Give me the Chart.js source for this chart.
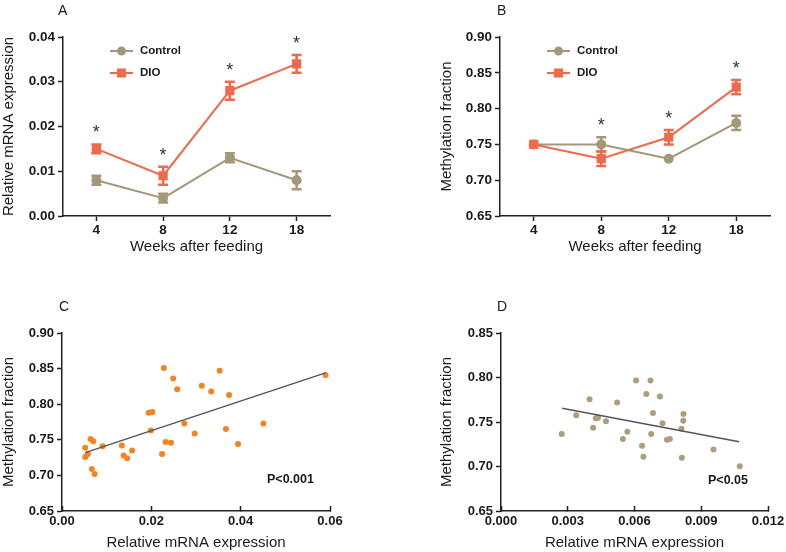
<!DOCTYPE html>
<html>
<head>
<meta charset="utf-8">
<script src="https://cdn.jsdelivr.net/npm/chart.js@4"></script>
<style>
body { margin: 0; background: #fff; }
#wrap { position: relative; width: 786px; height: 552px; }
canvas { position: absolute; }
</style>
</head>
<body>
<div id="wrap">
<canvas id="chartA" width="390" height="276" style="left:0;top:0"></canvas>
<canvas id="chartB" width="396" height="276" style="left:390px;top:0"></canvas>
<canvas id="chartC" width="390" height="276" style="left:0;top:276px"></canvas>
<canvas id="chartD" width="396" height="276" style="left:390px;top:276px"></canvas>
</div>
<script>
// panel A / B: time course
const weeks = ['4', '8', '12', '18'];
const mrnaControl = [0.008, 0.004, 0.013, 0.008];
const mrnaControlErr = [0.001, 0.001, 0.001, 0.002];
const mrnaDIO = [0.015, 0.009, 0.028, 0.034];
const mrnaDIOErr = [0.001, 0.002, 0.002, 0.002];
const mrnaSig = [true, true, true, true];

const methControl = [0.75, 0.75, 0.73, 0.78];
const methControlErr = [0, 0.01, 0, 0.01];
const methDIO = [0.75, 0.73, 0.76, 0.83];
const methDIOErr = [0, 0.01, 0.01, 0.01];
const methSig = [false, true, true, true];

// panel C: DIO scatter
const dioExpr = [0.0052, 0.0052, 0.0058, 0.0064, 0.0070, 0.0067, 0.0073, 0.0091, 0.0134, 0.0138, 0.0146, 0.0157,
  0.0194, 0.0202, 0.0199, 0.0224, 0.0228, 0.0232, 0.0244, 0.0249, 0.0258, 0.0274, 0.0297, 0.0313, 0.0334,
  0.0353, 0.0374, 0.0367, 0.0394, 0.0451, 0.0590];
const dioMeth = [0.739, 0.726, 0.730, 0.751, 0.748, 0.709, 0.702, 0.741, 0.742, 0.728, 0.724, 0.735,
  0.788, 0.789, 0.763, 0.730, 0.851, 0.747, 0.746, 0.836, 0.821, 0.773, 0.759, 0.826, 0.818,
  0.847, 0.813, 0.765, 0.744, 0.773, 0.841];
const fitCx = [0.0052, 0.059];
const fitCy = [0.732, 0.844];

// panel D: control scatter
const ctrlExpr = [0.00273, 0.00338, 0.00398, 0.00414, 0.00426, 0.00436, 0.00472, 0.00522, 0.00548, 0.00568,
  0.00607, 0.00634, 0.0064, 0.00653, 0.00672, 0.00675, 0.00683, 0.00714, 0.00726, 0.00746, 0.00759,
  0.00811, 0.00813, 0.0082, 0.00819, 0.00955, 0.01073];
const ctrlMeth = [0.7365, 0.7575, 0.7756, 0.7436, 0.7541, 0.7549, 0.7508, 0.7718, 0.7308, 0.7391,
  0.7966, 0.7233, 0.7109, 0.7816, 0.7966, 0.7365, 0.7602, 0.7786, 0.7485, 0.7301, 0.7308,
  0.7425, 0.7098, 0.759, 0.7515, 0.7192, 0.7004];
const fitDx = [0.00275, 0.0107];
const fitDy = [0.7654, 0.7278];

const ctrlColor = '#A39878';
const dioColor = '#EE6A4B';
const dotC = '#F5841F';
const dotD = '#AD9E7E';
const axisColor = '#222';
const textColor = '#1a1a1a';
const FONT = '"Liberation Sans", Arial, Helvetica, sans-serif';

Chart.defaults.font.family = FONT;
Chart.defaults.color = textColor;

function zeroPad(s) {
    s.paddingLeft = 0; s.paddingRight = 0; s.paddingTop = 0; s.paddingBottom = 0;
}

function xAxis(title, extra, h, tickLen, pad, size) {
    return Object.assign({
        border: { color: axisColor, width: 1.5 },
        grid: { drawOnChartArea: false, offset: false, tickLength: tickLen, tickColor: axisColor, tickWidth: 1.5 },
        ticks: { color: textColor, font: { size: size, weight: 'bold' }, padding: pad, maxRotation: 0, autoSkip: false },
        title: { display: true, text: title, color: textColor, font: { size: 15 }, padding: 0 },
        afterFit(s) { s.height = h; zeroPad(s); }
    }, extra);
}

function yAxis(title, extra, w, size, digits) {
    return Object.assign({
        border: { color: axisColor, width: 1.5 },
        grid: { drawOnChartArea: false, tickLength: 5, tickColor: axisColor, tickWidth: 1.5 },
        ticks: { color: textColor, font: { size: size, weight: 'bold' }, padding: 3, callback: v => v.toFixed(digits) },
        title: { display: true, text: title, color: textColor, font: { size: 15 }, padding: 0 },
        afterFit(s) { s.width = w; zeroPad(s); }
    }, extra);
}

// mean +/- error bars, drawn under the markers
const errorBars = {
    id: 'errorBars',
    beforeDatasetsDraw(chart) {
        const ctx = chart.ctx;
        const y = chart.scales.y;
        chart.data.datasets.forEach((ds, i) => {
            if (!ds.errors) return;
            const meta = chart.getDatasetMeta(i);
            ctx.save();
            ctx.strokeStyle = ds.borderColor;
            ctx.lineWidth = 2.5;
            meta.data.forEach((pt, j) => {
                const e = ds.errors[j];
                if (!e) return;
                const t = y.getPixelForValue(ds.data[j] + e);
                const b = y.getPixelForValue(ds.data[j] - e);
                ctx.beginPath();
                ctx.moveTo(pt.x, t); ctx.lineTo(pt.x, b);
                ctx.moveTo(pt.x - 5, t); ctx.lineTo(pt.x + 5, t);
                ctx.moveTo(pt.x - 5, b); ctx.lineTo(pt.x + 5, b);
                ctx.stroke();
            });
            ctx.restore();
        });
    }
};

// panel letter, inline legend, asterisks and p-value text
function annotate(cfg) {
    return {
        id: 'annot' + cfg.letter,
        afterDraw(chart) {
            const ctx = chart.ctx;
            const a = chart.chartArea;
            ctx.save();
            ctx.fillStyle = textColor;
            ctx.textBaseline = 'alphabetic';
            ctx.textAlign = 'left';
            ctx.font = '14px ' + FONT;
            ctx.fillText(cfg.letter, cfg.letterX, cfg.letterY);

            if (cfg.legend) {
                chart.data.datasets.forEach((ds, i) => {
                    const ly = a.top + 14 + 22 * i;
                    const lx = a.left + 47;
                    ctx.strokeStyle = ds.borderColor;
                    ctx.fillStyle = ds.borderColor;
                    ctx.lineWidth = 2;
                    ctx.beginPath();
                    ctx.moveTo(lx, ly); ctx.lineTo(lx + 23, ly);
                    ctx.stroke();
                    if (ds.pointStyle === 'rect') {
                        ctx.fillRect(lx + 11.5 - 4.5, ly - 4.5, 9, 9);
                    } else {
                        ctx.beginPath();
                        ctx.arc(lx + 11.5, ly, 4.5, 0, Math.PI * 2);
                        ctx.fill();
                    }
                    ctx.fillStyle = textColor;
                    ctx.font = 'bold 11.5px ' + FONT;
                    ctx.textBaseline = 'middle';
                    ctx.fillText(ds.label, lx + 30, ly);
                });
            }

            if (cfg.sig) {
                const y = chart.scales.y;
                const x = chart.scales.x;
                ctx.fillStyle = '#333';
                ctx.font = '18px ' + FONT;
                ctx.textAlign = 'center';
                ctx.textBaseline = 'alphabetic';
                cfg.sig.forEach((s, j) => {
                    if (!s) return;
                    let top = -Infinity;
                    chart.data.datasets.forEach(ds => {
                        top = Math.max(top, ds.data[j] + (ds.errors ? ds.errors[j] : 0));
                    });
                    const py = y.getPixelForValue(top) - 16;
                    ctx.fillText('*', x.getPixelForValue(j), py + 10);
                });
            }

            if (cfg.pText) {
                ctx.fillStyle = textColor;
                ctx.font = 'bold 12.5px ' + FONT;
                ctx.textAlign = 'left';
                ctx.textBaseline = 'middle';
                ctx.fillText(cfg.pText, a.right - cfg.pRight, a.bottom - cfg.pUp);
            }
            ctx.restore();
        }
    };
}

const baseOpts = {
    responsive: false,
    animation: false,
    events: [],
    plugins: { legend: { display: false }, tooltip: { enabled: false } }
};

function buildLine(id, control, controlErr, dio, dioErr, sig, yTitle, yMin, yMax, yStep, pad, yW, letter, letterX) {
    const y = yAxis(yTitle, { min: yMin, max: yMax }, yW, 13.5, 2);
    y.ticks.stepSize = yStep;
    const x = xAxis('Weeks after feeding', { type: 'category', offset: true }, 40, 5, 1, 13.5);
    new Chart(document.getElementById(id), {
        type: 'line',
        data: {
            labels: weeks,
            datasets: [{
                label: 'Control', data: control, errors: controlErr,
                borderColor: ctrlColor, backgroundColor: ctrlColor, borderWidth: 2,
                pointStyle: 'circle', pointRadius: 5, pointBorderWidth: 0, order: 1
            }, {
                label: 'DIO', data: dio, errors: dioErr,
                borderColor: dioColor, backgroundColor: dioColor, borderWidth: 2,
                pointStyle: 'rect', pointRadius: 6.5, pointBorderWidth: 0, order: 0
            }]
        },
        options: Object.assign({}, baseOpts, {
            layout: { autoPadding: false, padding: pad },
            scales: { x: x, y: y }
        }),
        plugins: [errorBars, annotate({ letter: letter, letterX: letterX, letterY: 15, legend: true, sig: sig })]
    });
}

function buildScatter(id, xs, ys, fx, fy, color, xMax, xStep, xDigits, yMax, pad, yW, letter, letterX, pText, pRight, pUp) {
    const x = xAxis('Relative mRNA expression', { type: 'linear', min: 0, max: xMax }, 41, -5, 8, 13);
    x.ticks.stepSize = xStep;
    x.ticks.callback = v => v.toFixed(xDigits);
    const y = yAxis('Methylation fraction', { min: 0.65, max: yMax }, yW, 13, 2);
    y.ticks.stepSize = 0.05;
    new Chart(document.getElementById(id), {
        type: 'scatter',
        data: {
            datasets: [{
                type: 'line',
                data: fx.map((v, i) => ({ x: v, y: fy[i] })),
                borderColor: '#555',
                borderWidth: 1.5,
                pointRadius: 0
            }, {
                data: xs.map((v, i) => ({ x: v, y: ys[i] })),
                backgroundColor: color,
                borderWidth: 0,
                pointRadius: 3
            }]
        },
        options: Object.assign({}, baseOpts, {
            layout: { autoPadding: false, padding: pad },
            scales: { x: x, y: y }
        }),
        plugins: [annotate({ letter: letter, letterX: letterX, letterY: 35, pText: pText, pRight: pRight, pUp: pUp })]
    });
}

buildLine('chartA', mrnaControl, mrnaControlErr, mrnaDIO, mrnaDIOErr, mrnaSig,
    'Relative mRNA expression', 0, 0.04, 0.01, { left: 0, top: 37, right: 60, bottom: 20 }, 63, 'A', 58);
buildLine('chartB', methControl, methControlErr, methDIO, methDIOErr, methSig,
    'Methylation fraction', 0.65, 0.90, 0.05, { left: 48, top: 37, right: 16, bottom: 20 }, 62, 'B', 107);
buildScatter('chartC', dioExpr, dioMeth, fitCx, fitCy, dotC, 0.06, 0.02, 2, 0.90,
    { left: 0, top: 57, right: 60, bottom: 0 }, 62, 'C', 59, 'P<0.001', 63, 31);
buildScatter('chartD', ctrlExpr, ctrlMeth, fitDx, fitDy, dotD, 0.012, 0.003, 3, 0.85,
    { left: 48, top: 57, right: 18, bottom: 0 }, 63, 'D', 107, 'P<0.05', 60, 30);
</script>
</body>
</html>
